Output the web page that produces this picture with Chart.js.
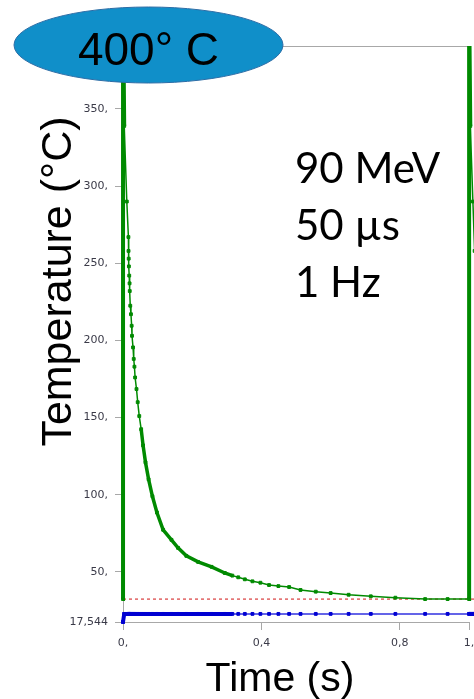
<!DOCTYPE html>
<html>
<head>
<meta charset="utf-8">
<script src="https://cdn.jsdelivr.net/npm/chart.js@4.4.0/dist/chart.umd.min.js"></script>
<style>
  html, body { margin: 0; padding: 0; background: #fff; }
  #wrap { width: 474px; height: 699px; }
</style>
</head>
<body>
<div id="wrap"><canvas id="chart" width="474" height="699"></canvas></div>
<script>
// ── data ──
const timeS = [0, 0.0001, 0.0035, 0.011, 0.0156, 0.016, 0.0165, 0.017, 0.018, 0.019, 0.0195,
  0.021, 0.023, 0.025, 0.026, 0.029, 0.031, 0.033, 0.035, 0.039, 0.0425, 0.047, 0.0525,
  0.058, 0.065, 0.074, 0.085, 0.098, 0.116, 0.14, 0.159, 0.183, 0.217, 0.256, 0.294,
  0.316, 0.333, 0.352, 0.374, 0.397, 0.422, 0.449, 0.48, 0.513, 0.557, 0.6, 0.652,
  0.716, 0.787, 0.873, 0.938, 1.0, 1.0001, 1.0035, 1.011, 1.016, 1.02];
const tempGreen = [32.4, 420, 339, 290, 267, 258, 253, 248, 242, 237, 232,
  222.5, 217, 209.5, 203, 195.5, 188, 183, 176, 168.5, 160, 151, 142.5,
  132, 121, 110, 99, 88.5, 77.3, 70.8, 65.6, 60.4, 56.5, 53.3, 49.3,
  47.6, 46.5, 45.2, 43.9, 43.0, 41.5, 40.8, 40.2, 38.3, 37.2, 36.3, 35.2,
  34.2, 33.3, 32.4, 32.4, 32.4, 420, 339, 290, 258, 248];
const tempBlue = [17.544, 17.544, 22.8, 22.8, 22.8, 22.8, 22.8, 22.8, 22.8, 22.8, 22.8,
  22.8, 22.8, 22.8, 22.8, 22.8, 22.8, 22.8, 22.8, 22.8, 22.8, 22.8, 22.8,
  22.8, 22.8, 22.8, 22.8, 22.8, 22.8, 22.8, 22.8, 22.8, 22.8, 22.8, 22.8,
  22.8, 22.8, 22.8, 22.8, 22.8, 22.8, 22.8, 22.8, 22.8, 22.8, 22.8, 22.8,
  22.8, 22.8, 22.8, 22.8, 22.8, 22.8, 22.8, 22.8, 22.8, 22.8];
const refTime = [0, 1.03];
const refTemp = [32.4, 32.4];

const yTicks = [17.544, 50, 100, 150, 200, 250, 300, 350];
const xTicks = [0, 0.4, 0.8, 1.0];
const xTickLabels = ['0,', '0,4', '0,8', '1,'];
const xFrameEnd = 1.0;

const infoLines = ['90 MeV', '50 \u00b5s', '1 Hz'];
const badgeText = '400\u00b0 C';

// ── helpers ──
const pts = (xs, ys) => xs.map((x, i) => ({ x, y: ys[i] }));
const dense = t => t < 0.3 || t >= 1.0;
const axisGrey = '#a8a8a8';

// extra drawing: frame lines, badge, text block, axis titles
const decor = {
  id: 'decor',
  beforeDatasetsDraw(chart) {
    const { ctx, chartArea: a } = chart;
    const xEnd = chart.scales.x.getPixelForValue(xFrameEnd);
    ctx.save();
    ctx.strokeStyle = axisGrey;
    ctx.lineWidth = 1;
    ctx.beginPath();
    ctx.moveTo(a.left, a.top + 0.5);
    ctx.lineTo(xEnd, a.top + 0.5);
    ctx.moveTo(a.left, a.bottom + 0.5);
    ctx.lineTo(xEnd, a.bottom + 0.5);
    ctx.stroke();
    ctx.restore();
  },
  afterDraw(chart) {
    const { ctx } = chart;
    ctx.save();
    // badge
    ctx.beginPath();
    ctx.ellipse(148.5, 45, 134.5, 38, 0, 0, Math.PI * 2);
    ctx.fillStyle = '#108fc9';
    ctx.fill();
    ctx.strokeStyle = '#2c6da6';
    ctx.lineWidth = 1;
    ctx.stroke();
    ctx.fillStyle = '#000';
    ctx.font = '46px "Liberation Sans", Arial, sans-serif';
    ctx.textAlign = 'center';
    ctx.textBaseline = 'alphabetic';
    ctx.fillText(badgeText, 148.5, 65);

    // beam parameters
    ctx.textAlign = 'left';
    ctx.font = '42px Lato, "Open Sans", sans-serif';
    infoLines.forEach((s, i) => ctx.fillText(s, 295, 183 + i * 57));

    // axis titles
    ctx.font = '41px "Liberation Sans", Arial, sans-serif';
    ctx.textAlign = 'center';
    ctx.fillText('Time (s)', 280, 691);
    ctx.font = '43px "Liberation Sans", Arial, sans-serif';
    ctx.translate(71, 281.5);
    ctx.rotate(-Math.PI / 2);
    ctx.fillText('Temperature (\u00b0C)', 0, 0);
    ctx.restore();
  }
};

const tickFont = { family: '"DejaVu Sans", Verdana, sans-serif', size: 11 };
const dataClip = { left: 3, top: 0, right: 10, bottom: 5 };

new Chart(document.getElementById('chart'), {
  type: 'line',
  data: {
    datasets: [
      {
        label: 'ref',
        data: pts(refTime, refTemp),
        borderColor: '#d01414',
        borderWidth: 1,
        borderDash: [3, 3],
        pointRadius: 0,
        clip: dataClip,
        order: 3
      },
      {
        label: 'surface',
        data: pts(timeS, tempBlue),
        borderColor: '#0000d2',
        backgroundColor: '#0000d2',
        pointStyle: 'rect',
        pointRadius: 2,
        pointBorderWidth: 1,
        borderWidth: 1.5,
        segment: {
          borderWidth: c => dense(c.p0.parsed.x) ? 4 : 1.5,
          borderColor: c => dense(c.p0.parsed.x) ? '#0000d2' : '#3030e0'
        },
        clip: dataClip,
        order: 2
      },
      {
        label: 'peak',
        data: pts(timeS, tempGreen),
        borderColor: '#008a00',
        backgroundColor: '#008a00',
        pointStyle: 'rect',
        pointRadius: 2,
        pointBorderWidth: 1,
        borderWidth: 1.5,
        segment: {
          borderWidth: c => {
            const t = c.p0.parsed.x;
            if (t < 0.0002 || (t >= 1.0 && t < 1.0002)) return 4;
            if (t >= 0.05 && t < 0.3) return 3.5;
            return 1.5;
          }
        },
        clip: dataClip,
        order: 1
      }
    ]
  },
  options: {
    responsive: false,
    animation: false,
    devicePixelRatio: 1,
    layout: { autoPadding: false, padding: { top: 46, right: 0, bottom: 47, left: 0 } },
    plugins: { legend: { display: false }, tooltip: { enabled: false } },
    scales: {
      x: {
        type: 'linear',
        min: 0,
        max: 1.0142,
        afterBuildTicks: s => { s.ticks = xTicks.map(v => ({ value: v })); },
        afterFit: s => { s.height = 30; s.paddingLeft = 0; s.paddingRight = 0; },
        ticks: {
          font: tickFont,
          color: '#3a3a48',
          padding: 7,
          maxRotation: 0,
          autoSkip: false,
          callback: v => xTickLabels[xTicks.indexOf(v)]
        },
        grid: { display: true, drawOnChartArea: false, drawTicks: true, tickLength: 8, color: axisGrey },
        border: { display: false }
      },
      y: {
        min: 17.544,
        max: 390.8,
        afterBuildTicks: s => { s.ticks = yTicks.map(v => ({ value: v })); },
        afterFit: s => { s.width = 123; s.paddingTop = 0; s.paddingBottom = 0; },
        ticks: {
          font: tickFont,
          color: '#3a3a48',
          padding: 7,
          autoSkip: false,
          callback: v => v === 17.544 ? '17,544' : v + ','
        },
        grid: { display: true, drawOnChartArea: false, drawTicks: true, tickLength: 8, color: axisGrey },
        border: { display: true, color: axisGrey }
      }
    }
  },
  plugins: [decor]
});
</script>
</body>
</html>
